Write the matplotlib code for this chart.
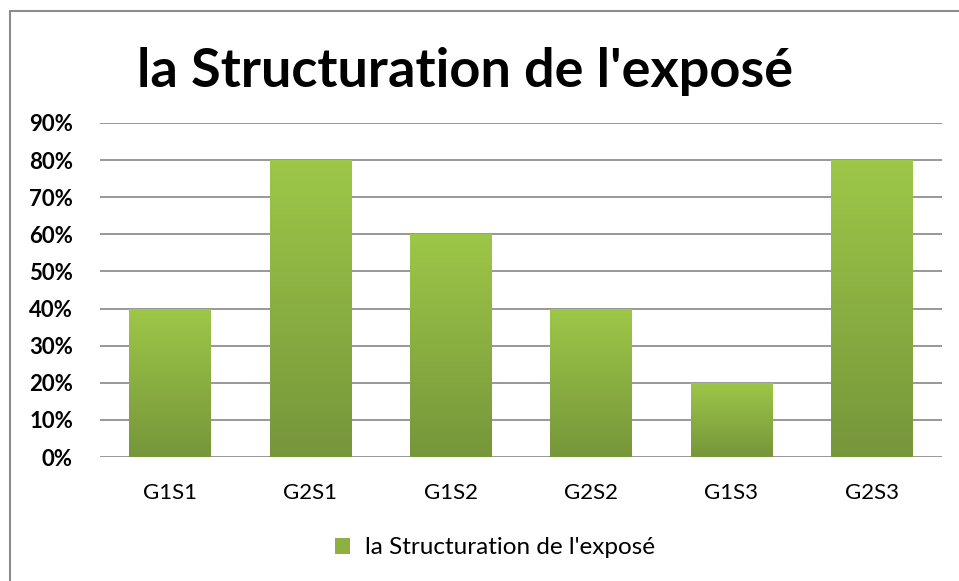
import numpy as np
import matplotlib
matplotlib.use('Agg')
import matplotlib.pyplot as plt
from matplotlib.patches import Rectangle, Patch
from matplotlib.colors import LinearSegmentedColormap

# data
categories = ['G1S1', 'G2S1', 'G1S2', 'G2S2', 'G1S3', 'G2S3']
values = [0.40, 0.80, 0.60, 0.40, 0.20, 0.80]
y_ticks = [0.0, 0.1, 0.2, 0.3, 0.4, 0.5, 0.6, 0.7, 0.8, 0.9]
series_name = "la Structuration de l'exposé"
title = "la Structuration de l'exposé"

plt.rcParams['font.family'] = ['Lato', 'DejaVu Sans']

W, H = 959, 581
fig = plt.figure(figsize=(W / 100, H / 100), dpi=100)

# chart frame (only left and top edges show in the picture)
fig.patches.append(Rectangle((10 / W, -0.2), 1.2, 1.2 - 11 / H,
                             transform=fig.transFigure, fill=False,
                             edgecolor='#8c8c8c', linewidth=1.5))

ax = fig.add_axes([100 / W, 1 - 457 / H, (942 - 100) / W, (457 - 123) / H])
x = np.arange(len(categories))
bars = ax.bar(x, values, width=0.58, color='none', zorder=3)

green = LinearSegmentedColormap.from_list('g', ['#76963a', '#9dc748'])
grad = np.linspace(0, 1, 256).reshape(-1, 1)
for b in bars:
    x0, y0 = b.get_x(), b.get_y()
    im = ax.imshow(grad, cmap=green, origin='lower', aspect='auto',
                   extent=[x0, x0 + b.get_width(), y0, y0 + b.get_height()],
                   zorder=3)
    im.set_clip_path(b)

ax.set_xlim(-0.5, len(categories) - 0.5)
ax.set_ylim(0, 0.9)
ax.set_yticks(y_ticks)
ax.set_yticklabels(['%d%%' % round(v * 100) for v in y_ticks],
                   fontsize=16, fontweight='bold')
ax.set_xticks(x)
ax.set_xticklabels(categories, fontsize=16)
ax.tick_params(length=0)
ax.tick_params(axis='y', pad=19.5)
ax.tick_params(axis='x', pad=19)
ax.yaxis.grid(True, color='#868686', linewidth=1.2, zorder=0)
ax.set_axisbelow(True)
for s in ax.spines.values():
    s.set_visible(False)

fig.text(465 / W, 1 - 71 / H, title, ha='center', va='center',
         fontsize=39, fontweight='bold')

handle = Patch(facecolor='#8db041', edgecolor='none')
fig.legend([handle], [series_name], loc='center', bbox_to_anchor=(495 / W, 1 - 548 / H),
           frameon=False, fontsize=17.5, handlelength=0.6, handleheight=0.6,
           handletextpad=0.6)

fig.savefig('out.png', dpi=100)
